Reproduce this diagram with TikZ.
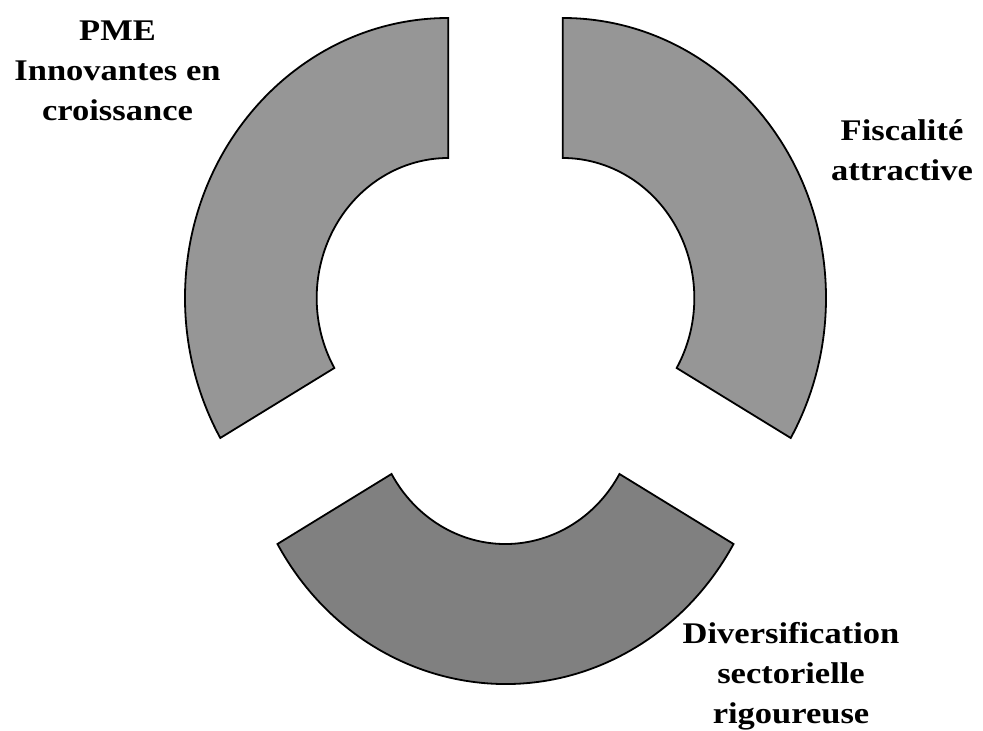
\documentclass[tikz,border=0pt]{standalone}
\usepackage{fontspec}
\setmainfont{Liberation Serif}[FakeStretch=1.15]
\definecolor{segtop}{RGB}{150,150,150}
\definecolor{segbot}{RGB}{128,128,128}
\begin{document}
\begin{tikzpicture}[x=1pt,y=1pt,
  seg/.style={draw=black,line width=1.8pt,line join=miter},
  lab/.style={font=\bfseries\fontsize{30}{40}\selectfont,align=center,inner sep=0pt,anchor=north}]
\useasboundingbox (0,0) rectangle (983,731);
\def\myROx{263.3}
\def\myROy{280}
\def\myRIx{131.6}
\def\myRIy{140}
\coordinate (Cl) at (448.3,433);
\coordinate (Cr) at (562.7,433);
\coordinate (Cb) at (505.5,327);
% left segment
\path[seg,fill=segtop] ([shift={(90:\myROx pt and \myROy pt)}]Cl)
  arc[start angle=90,end angle=210,x radius=\myROx,y radius=\myROy]
  -- ([shift={(210:\myRIx pt and \myRIy pt)}]Cl)
  arc[start angle=210,end angle=90,x radius=\myRIx,y radius=\myRIy] -- cycle;
% right segment
\path[seg,fill=segtop] ([shift={(90:\myROx pt and \myROy pt)}]Cr)
  arc[start angle=90,end angle=-30,x radius=\myROx,y radius=\myROy]
  -- ([shift={(-30:\myRIx pt and \myRIy pt)}]Cr)
  arc[start angle=-30,end angle=90,x radius=\myRIx,y radius=\myRIy] -- cycle;
% bottom segment
\path[seg,fill=segbot] ([shift={(210:\myROx pt and \myROy pt)}]Cb)
  arc[start angle=210,end angle=330,x radius=\myROx,y radius=\myROy]
  -- ([shift={(330:\myRIx pt and \myRIy pt)}]Cb)
  arc[start angle=330,end angle=210,x radius=\myRIx,y radius=\myRIy] -- cycle;
% labels
\node[lab] (pme) at (117.5,710.5) {PME\\Innovantes en\\croissance};
\node[lab] (fisc) at (902,612) {Fiscalité\\attractive};
\node[lab] (div) at (791,109) {Diversification\\sectorielle\\rigoureuse};
\end{tikzpicture}
\end{document}
